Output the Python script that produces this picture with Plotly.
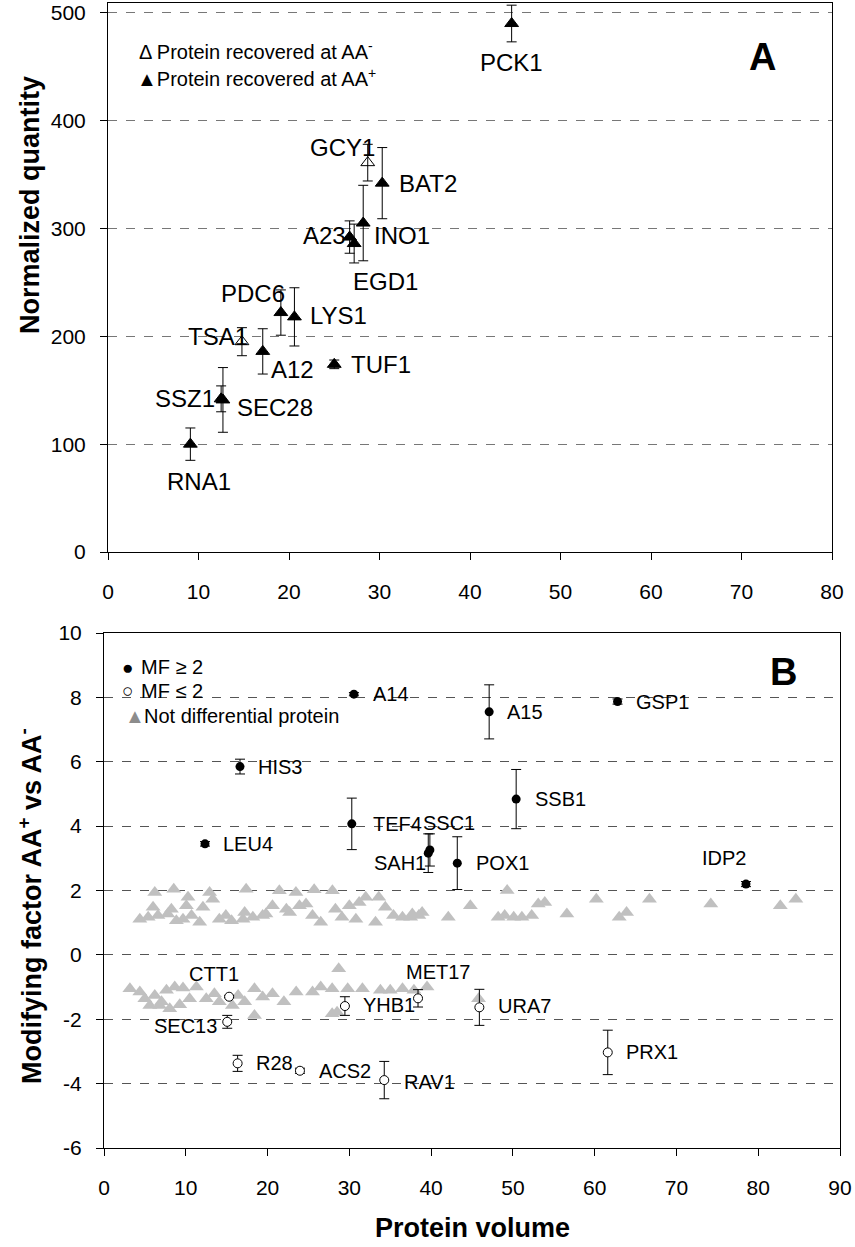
import plotly.graph_objects as go

# ---------------- Panel A data ----------------
A_names = ["PCK1", "GCY1", "BAT2", "INO1", "A23", "EGD1", "PDC6", "LYS1",
           "TSA1", "A12", "TUF1", "SSZ1", "SEC28", "RNA1"]
A_x = [44.6, 28.7, 30.3, 28.2, 26.7, 27.2, 19.1, 20.6, 14.8, 17.1, 25.0, 12.5, 12.7, 9.1]
A_y = [490, 361, 342, 305, 292, 286, 222, 218, 195, 186, 174, 142, 141, 100]
A_err = [17, 17, 33, 35, 15, 18, 21, 27, 13, 21, 4, 12, 30, 15]
A_open = [False, True, False, False, False, False, False, False, True, False, False, False, False, False]
# label positions (x, y, anchor)
A_lab_x = [44.6, 29.7, 31.9, 29.2, 26.5, 26.9, 16.0, 22.1, 12.1, 17.8, 26.6, 12.0, 14.0, 10.1]
A_lab_y = [454, 375, 342, 293, 293, 251, 240, 219, 200, 169, 174, 142, 134, 65]
A_lab_anchor = ["center", "right", "left", "left", "right", "left", "center", "left",
                "center", "left", "left", "right", "left", "center"]

# ---------------- Panel B data ----------------
# MF >= 2 (filled)
B1_names = ["A14", "HIS3", "A15", "GSP1", "SSB1", "TEF4", "SSC1", "SAH1", "POX1", "LEU4", "IDP2"]
B1_x = [30.56, 16.63, 47.1, 62.8, 50.4, 30.3, 39.85, 39.65, 43.2, 12.35, 78.5]
B1_y = [8.10, 5.85, 7.55, 7.87, 4.84, 4.07, 3.26, 3.16, 2.85, 3.45, 2.2]
B1_err = [0.05, 0.23, 0.84, 0.08, 0.92, 0.80, 0.50, 0.60, 0.82, 0.07, 0.08]
B1_lab_x = [32.6, 18.6, 49.0, 64.8, 52.4, 32.6, 38.75, 39.6, 45.3, 14.3, 75.8]
B1_lab_y = [8.10, 5.85, 7.55, 7.87, 4.84, 4.07, 4.11, 2.85, 2.85, 3.45, 3.0]
B1_lab_anchor = ["left", "left", "left", "left", "left", "left", "left", "right", "left", "left", "center"]

# MF <= 2 (open)
B2_names = ["CTT1", "SEC13", "YHB1", "MET17", "R28", "ACS2", "RAV1", "URA7", "PRX1"]
B2_x = [15.3, 15.07, 29.46, 38.4, 16.34, 23.96, 34.27, 45.9, 61.6]
B2_y = [-1.30, -2.08, -1.59, -1.35, -3.37, -3.60, -3.89, -1.63, -3.03]
B2_err = [0.03, 0.20, 0.29, 0.27, 0.25, 0.08, 0.58, 0.56, 0.69]
B2_lab_x = [13.45, 14.1, 31.4, 40.9, 18.3, 26.1, 36.4, 47.9, 63.6]
B2_lab_y = [-0.59, -2.21, -1.56, -0.52, -3.37, -3.60, -3.94, -1.59, -3.03]
B2_lab_anchor = ["center", "right", "left", "center", "left", "left", "left", "left", "left"]

# Not differential proteins (grey)
ND_x = [6.21, 8.53, 10.27, 12.91, 17.38, 21.44, 23.47, 25.70, 27.93, 32.0, 33.6,
        6.0, 8.24, 10.07, 12.1, 13.3, 14.9, 17.2, 19.8, 20.6, 22.3, 23.9, 24.7, 28.3, 30.0, 31.2, 34.4, 44.8,
        4.38, 5.4, 6.6, 7.8, 8.85, 9.66, 10.7, 11.7, 14.1, 15.6, 17.0, 18.2, 19.4, 22.7, 25.5, 26.5, 29.1,
        30.8, 33.2, 35.4, 36.5, 37.5, 38.5, 42.1,
        37.7, 38.9, 48.2, 49.0, 50.1, 51.1, 52.3, 53.1, 53.9, 56.6, 60.2, 63.0, 63.9, 74.2, 82.7, 49.3, 66.7, 84.6,
        3.17, 4.38, 4.99, 6.21, 7.03, 7.64, 8.65, 9.66, 10.47, 11.3, 12.5, 13.5, 14.1, 16.4, 17.2, 18.4, 18.4,
        19.4, 20.6, 22.0, 23.5, 25.5, 26.5, 27.9, 28.7, 29.8, 31.6, 33.8, 35.0, 36.5, 39.5, 6.8, 5.6, 9.26,
        8.04, 27.9, 28.5, 15.7, 37.9, 45.8]
ND_y = [1.94, 2.04, 1.79, 1.94, 2.04, 1.99, 1.94, 2.02, 1.99, 1.79, 1.79,
        1.48, 1.42, 1.53, 1.48, 1.73, 1.22, 1.32, 1.27, 1.53, 1.42, 1.53, 1.58, 1.42, 1.53, 1.63, 1.48, 1.53,
        1.11, 1.17, 1.22, 1.27, 1.06, 1.11, 1.22, 1.01, 1.11, 1.06, 1.11, 1.17, 1.22, 1.32, 1.22, 1.01, 1.17,
        1.11, 1.01, 1.22, 1.17, 1.17, 1.22, 1.17,
        1.27, 1.32, 1.17, 1.22, 1.17, 1.17, 1.22, 1.58, 1.63, 1.27, 1.73, 1.17, 1.32, 1.58, 1.53, 2.0, 1.73, 1.73,
        -1.05, -1.15, -1.36, -1.26, -1.46, -1.10, -1.0, -1.03, -1.36, -1.0, -1.36, -1.21, -1.46, -1.26, -1.46, -1.05, -1.88,
        -1.31, -1.21, -1.46, -1.15, -1.15, -1.0, -1.05, -0.43, -1.05, -1.05, -1.10, -1.10, -1.05, -1.0, -1.57, -1.57, -1.55,
        -1.67, -1.83, -1.78, -1.57, -1.1, -1.36]

A_xticks = [0, 10, 20, 30, 40, 50, 60, 70, 80]
A_yticks = [0, 100, 200, 300, 400, 500]
B_xticks = [0, 10, 20, 30, 40, 50, 60, 70, 80, 90]
B_yticks = [-6, -4, -2, 0, 2, 4, 6, 8, 10]
B_yticklabels = ["-6", "-4", "-2", "0", "2", "4", "6", "8", "10"]

FONT = "Liberation Sans, Arial, sans-serif"
W, H = 855, 1247

fig = go.Figure()

# Panel A markers
for is_open in (False, True):
    idx = [i for i in range(len(A_x)) if A_open[i] == is_open]
    fig.add_trace(go.Scatter(
        x=[A_x[i] for i in idx], y=[A_y[i] for i in idx],
        mode="markers", xaxis="x", yaxis="y",
        marker=dict(symbol="triangle-up-open" if is_open else "triangle-up",
                    size=12, color="black", line=dict(color="black", width=1)),
        error_y=dict(type="data", array=[A_err[i] for i in idx], color="black",
                     thickness=1, width=5),
        showlegend=False, hoverinfo="skip"))

# Panel B markers
fig.add_trace(go.Scatter(
    x=ND_x, y=ND_y, mode="markers", xaxis="x2", yaxis="y2",
    marker=dict(symbol="triangle-up", size=13, color="#C0C0C0"),
    showlegend=False, hoverinfo="skip"))
fig.add_trace(go.Scatter(
    x=B2_x, y=B2_y, mode="markers", xaxis="x2", yaxis="y2",
    marker=dict(symbol="circle", size=9, color="white", line=dict(color="black", width=1)),
    error_y=dict(type="data", array=B2_err, color="black", thickness=1, width=5),
    showlegend=False, hoverinfo="skip"))
fig.add_trace(go.Scatter(
    x=B1_x, y=B1_y, mode="markers", xaxis="x2", yaxis="y2",
    marker=dict(symbol="circle", size=9, color="black"),
    error_y=dict(type="data", array=B1_err, color="black", thickness=1, width=5),
    showlegend=False, hoverinfo="skip"))

ann = []
for n, x, y, a in zip(A_names, A_lab_x, A_lab_y, A_lab_anchor):
    ann.append(dict(x=x, y=y, xref="x", yref="y", text=n, showarrow=False,
                    xanchor=a, yanchor="middle", font=dict(size=24, color="black", family=FONT)))
for names, xs, ys, anchors in ((B1_names, B1_lab_x, B1_lab_y, B1_lab_anchor),
                               (B2_names, B2_lab_x, B2_lab_y, B2_lab_anchor)):
    for n, x, y, a in zip(names, xs, ys, anchors):
        ann.append(dict(x=x, y=y, xref="x2", yref="y2", text=n, showarrow=False,
                        xanchor=a, yanchor="middle", font=dict(size=20, color="black", family=FONT)))


def px(x, y):
    return x / W, (H - y) / H


def add_paper(text, x, y, size, anchor="left", bold=False, angle=0, color="black"):
    xx, yy = px(x, y)
    ann.append(dict(x=xx, y=yy, xref="paper", yref="paper", text=f"<b>{text}</b>" if bold else text,
                    showarrow=False, xanchor=anchor, yanchor="middle", textangle=angle,
                    font=dict(size=size, color=color, family=FONT)))


# legends
add_paper("Δ Protein recovered at AA<sup>-</sup>", 137, 51, 20)
add_paper("▲Protein recovered at AA<sup>+</sup>", 135, 77, 20)
add_paper("●", 120, 667, 19)
add_paper("MF ≥ 2", 139, 667, 20)
add_paper("○", 120, 691, 19)
add_paper("MF ≤ 2", 139, 691, 20)
add_paper("▲", 123, 716, 20, color="#8c8c8c")
add_paper("Not differential protein", 142, 716, 20)
# panel letters
add_paper("A", 762, 57, 38, anchor="center", bold=True)
add_paper("B", 783, 672, 38, anchor="center", bold=True)
# axis titles
add_paper("Normalized quantity", 30, 205, 27, anchor="center", bold=True, angle=-90)
add_paper("Modifying factor AA<sup>+</sup> vs AA<sup>-</sup>", 30, 906, 27, anchor="center", bold=True, angle=-90)
add_paper("Protein volume", 472, 1228, 27, anchor="center", bold=True)

axis_common = dict(showline=True, linecolor="black", linewidth=1, mirror=True,
                   ticks="outside", ticklen=7, tickcolor="black", tickwidth=1,
                   zeroline=False, automargin=False,
                   tickfont=dict(size=21, color="black", family=FONT))

fig.update_layout(
    width=W, height=H, margin=dict(l=0, r=0, t=0, b=0),
    paper_bgcolor="white", plot_bgcolor="white", showlegend=False,
    annotations=ann,
    xaxis=dict(domain=[108 / W, 832 / W], range=[0, 80], tickvals=A_xticks, showgrid=False,
               anchor="y", ticklabelstandoff=14, **axis_common),
    yaxis=dict(domain=[(H - 552) / H, (H - 2.7) / H], range=[0, 509.3], tickvals=A_yticks,
               showgrid=True, gridcolor="#777777", griddash="dash", gridwidth=1,
               anchor="x", ticklabelstandoff=10, **axis_common),
    xaxis2=dict(domain=[104 / W, 840 / W], range=[0, 90], tickvals=B_xticks, showgrid=False,
                anchor="y2", ticklabelstandoff=14, **axis_common),
    yaxis2=dict(domain=[(H - 1148) / H, (H - 633) / H], range=[-6, 10], tickvals=B_yticks,
                ticktext=B_yticklabels,
                showgrid=True, gridcolor="#555555", griddash="dash", gridwidth=1,
                anchor="x2", ticklabelstandoff=10, **axis_common),
)

fig.write_html("out.html", config={"displayModeBar": False},
               post_script="document.body.style.margin='0';document.body.style.overflow='hidden';")
